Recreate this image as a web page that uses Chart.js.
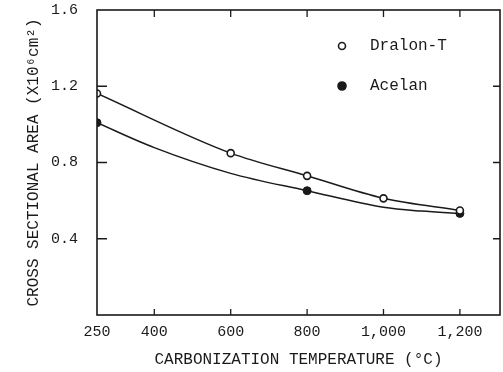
<!DOCTYPE html>
<html>
<head>
<meta charset="utf-8">
<script src="https://cdn.jsdelivr.net/npm/chart.js@4/dist/chart.umd.min.js"></script>
<style>
  html, body { margin: 0; padding: 0; background: #fff; }
  canvas { display: block; }
</style>
</head>
<body>
<canvas id="areaChart" width="503" height="372"></canvas>
<script>
// Diện tích tiết diện theo nhiệt độ cacbon hóa
const dralonTemps = [250, 600, 800, 1000, 1200];
const dralonArea = [1.162, 0.849, 0.73, 0.612, 0.548];

// Đường cong Acelan đọc theo từng mốc nhiệt độ; chỉ các mốc đo mới có điểm
const acelanTemps = [250, 400, 600, 800, 1000, 1100, 1200];
const acelanArea = [1.009, 0.878, 0.743, 0.652, 0.565, 0.545, 0.533];
const acelanMeasured = [250, 800, 1200];

const xTicks = [250, 400, 600, 800, 1000, 1200];
const xTickLabels = ["250", "400", "600", "800", "1,000", "1,200"];
const yTicks = [0.4, 0.8, 1.2, 1.6];

const ink = "#1a1a1a";
const mono = "'Liberation Mono', 'DejaVu Sans Mono', monospace";

// Ghép cặp (x, y) cho từng chuỗi
const toPoints = (xs, ys) => xs.map((x, i) => ({ x: x, y: ys[i] }));

// Khung trục và vạch chia hướng vào trong
const framePlugin = {
  id: "frame",
  afterDraw(chart) {
    const { ctx, chartArea: a, scales } = chart;
    const x = scales.x, y = scales.y;
    ctx.save();
    ctx.strokeStyle = ink;
    ctx.lineWidth = 1.6;
    ctx.strokeRect(a.left, a.top, a.right - a.left, a.bottom - a.top);
    ctx.lineWidth = 1.3;
    ctx.beginPath();
    xTicks.slice(1).forEach((v) => {
      const px = x.getPixelForValue(v);
      ctx.moveTo(px, a.bottom); ctx.lineTo(px, a.bottom - 6);
      ctx.moveTo(px, a.top); ctx.lineTo(px, a.top + 7);
    });
    yTicks.slice(0, 3).forEach((v) => {
      const py = y.getPixelForValue(v);
      ctx.moveTo(a.left, py); ctx.lineTo(a.left + 10, py);
      ctx.moveTo(a.right, py); ctx.lineTo(a.right - 7, py);
    });
    ctx.stroke();
    ctx.restore();
  }
};

// Chú thích nằm trong vùng vẽ, góc trên bên phải
const legendPlugin = {
  id: "innerLegend",
  afterDraw(chart) {
    const { ctx, chartArea: a } = chart;
    ctx.save();
    ctx.font = "16px " + mono;
    ctx.textBaseline = "middle";
    chart.data.datasets.forEach((ds, i) => {
      const cx = a.left + 245;
      const cy = a.top + 36 + i * 40;
      ctx.beginPath();
      ctx.arc(cx, cy, i === 0 ? 3.5 : 4, 0, Math.PI * 2);
      ctx.lineWidth = 1.6;
      ctx.strokeStyle = ink;
      ctx.fillStyle = ds.pointBackgroundColor;
      ctx.fill();
      ctx.stroke();
      ctx.fillStyle = ink;
      ctx.fillText(ds.label, a.left + 273, cy);
    });
    ctx.restore();
  }
};

new Chart(document.getElementById("areaChart"), {
  type: "line",
  data: {
    datasets: [
      {
        label: "Dralon-T",
        data: toPoints(dralonTemps, dralonArea),
        borderColor: ink,
        borderWidth: 1.5,
        cubicInterpolationMode: "monotone",
        pointRadius: 3.5,
        pointBorderWidth: 1.6,
        pointBorderColor: ink,
        pointBackgroundColor: "#fff"
      },
      {
        label: "Acelan",
        data: toPoints(acelanTemps, acelanArea),
        borderColor: ink,
        borderWidth: 1.5,
        cubicInterpolationMode: "monotone",
        pointRadius: acelanTemps.map((t) => (acelanMeasured.includes(t) ? 4 : 0)),
        pointBorderWidth: 1,
        pointBorderColor: ink,
        pointBackgroundColor: ink
      }
    ]
  },
  options: {
    responsive: false,
    animation: false,
    devicePixelRatio: 1,
    // tắt autoPadding để khung sát mép phải như bản gốc
    layout: { autoPadding: false, padding: { top: 10, right: 3, left: 0, bottom: 0 } },
    plugins: { legend: { display: false }, tooltip: { enabled: false } },
    scales: {
      x: {
        type: "linear",
        min: 250,
        max: 1305,
        afterFit: (s) => {
          s.height = 57;
          s.paddingLeft = 0;
          s.paddingRight = 0;
        },
        afterBuildTicks: (s) => { s.ticks = xTicks.map((v) => ({ value: v })); },
        grid: { display: false, drawTicks: true, tickLength: 8 },
        border: { display: false },
        ticks: {
          autoSkip: false,
          maxRotation: 0,
          padding: 0,
          color: ink,
          font: { family: mono, size: 15 },
          callback: (v) => xTickLabels[xTicks.indexOf(v)]
        },
        title: {
          display: true,
          text: "CARBONIZATION TEMPERATURE (°C)",
          color: ink,
          font: { family: mono, size: 16 },
          padding: { top: 0, bottom: 3 }
        }
      },
      y: {
        min: 0,
        max: 1.6,
        afterFit: (s) => { s.width = 97; },
        afterBuildTicks: (s) => { s.ticks = yTicks.map((v) => ({ value: v })); },
        grid: { display: false, drawTicks: true, tickLength: 18 },
        border: { display: false },
        ticks: {
          padding: 1,
          color: ink,
          font: { family: mono, size: 15 },
          callback: (v) => v.toFixed(1)
        },
        title: {
          display: true,
          text: "CROSS SECTIONAL AREA (X10⁶cm²)",
          color: ink,
          font: { family: mono, size: 16 },
          padding: { top: 24, bottom: 0 }
        }
      }
    }
  },
  plugins: [framePlugin, legendPlugin]
});
</script>
</body>
</html>
